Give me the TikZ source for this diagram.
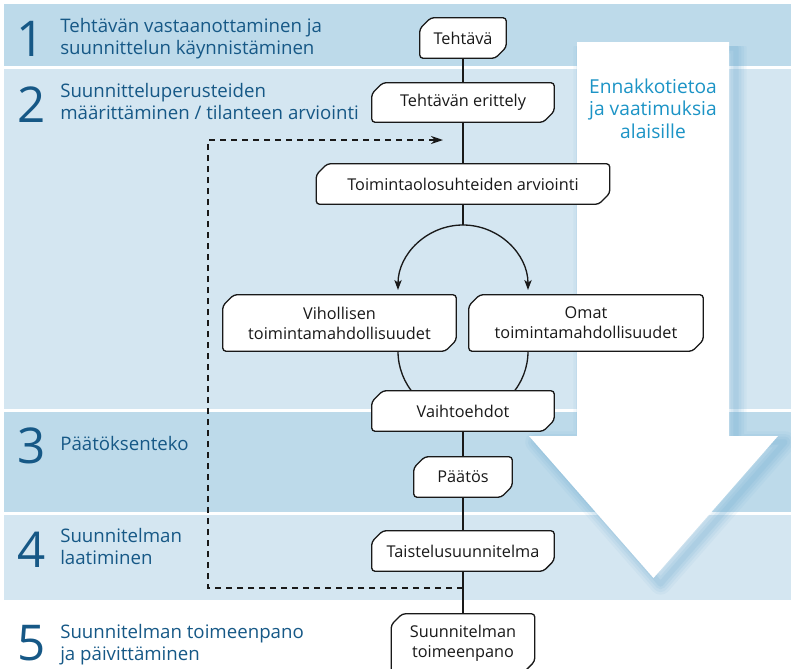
\documentclass[tikz,border=0pt]{standalone}
\usepackage{fontspec}
\setmainfont{Open Sans}
\usetikzlibrary{arrows.meta,calc}

\definecolor{banddark}{RGB}{189,218,234}
\definecolor{bandlight}{RGB}{212,230,241}
\definecolor{stepblue}{RGB}{22,88,134}
\definecolor{notecyan}{RGB}{28,148,198}
\definecolor{glow}{RGB}{110,172,210}
\definecolor{ink}{RGB}{25,25,25}

\pgfdeclarelayer{bands}
\pgfdeclarelayer{links}
\pgfdeclarelayer{shapes}
\pgfsetlayers{bands,links,shapes,main}

\tikzset{
  stepnum/.style={anchor=base, text=stepblue, inner sep=0pt, text depth=0pt,
    font=\fontsize{37}{37}\selectfont},
  steptext/.style={anchor=base west, text=stepblue, align=left, inner sep=0pt,
    font=\fontsize{14}{16.5}\selectfont},
  notetext/.style={anchor=base, text=notecyan, align=center, inner sep=0pt,
    font=\fontsize{14.4}{16.8}\selectfont},
  flowbox/.style={inner sep=0pt, align=center, text=ink,
    font=\fontsize{12.2}{15}\selectfont},
  size/.style 2 args={minimum width={0.75pt*#1}, minimum height={0.75pt*#2}},
  link/.style={line width=1pt, draw=ink},
  tip/.style={-{Stealth[length=7.5pt,width=5.5pt,inset=2pt]}},
  feedback/.style={line width=1pt, draw=ink, dash pattern=on 4.5pt off 3.75pt,
    -{Stealth[length=9pt,width=6pt,inset=3pt]}},
  outline/.style={line width=1pt, draw=ink, fill=white, rounded corners=2.5pt},
}

\begin{document}
\begin{tikzpicture}[x=0.75pt,y=0.75pt]
\useasboundingbox (0,0) rectangle (791,-668);

% phase bands and the downward arrow
\begin{pgfonlayer}{bands}
  \fill[banddark]  (4,-4)   rectangle (791,-66);
  \fill[bandlight] (4,-69)  rectangle (791,-409);
  \fill[banddark]  (4,-412) rectangle (791,-512);
  \fill[bandlight] (4,-515) rectangle (791,-600);
  \begin{scope}
    \clip (520,-46) rectangle (791,-610);
    \foreach \w/\o in {16/0.08, 12/0.10, 8/0.12, 4/0.15}
      \draw[glow, line width=\w pt, opacity=\o, line join=round, shift={(7,-6)}]
        (577,-42) -- (729,-42) -- (729,-436) -- (778,-436) -- (653.5,-578)
        -- (529,-436) -- (577,-436) -- cycle;
  \end{scope}
  \fill[white] (577,-42) -- (729,-42) -- (729,-436) -- (778,-436) -- (653.5,-578)
    -- (529,-436) -- (577,-436) -- cycle;
\end{pgfonlayer}

% multi-line texts are placed by the baseline of their last line
\node[notetext] (note) at (653,-138)
  {Ennakkotietoa\\ja vaatimuksia\\alaisille};

% phase numbers and titles
\node[stepnum] (n1) at (31,-56)  {1};
\node[stepnum] (n2) at (32,-122) {2};
\node[stepnum] (n3) at (32,-463) {3};
\node[stepnum] (n4) at (32,-567) {4};
\node[stepnum] (n5) at (32,-660) {5};

\node[steptext] (p1) at (60,-54)
  {Tehtävän vastaanottaminen ja\\suunnittelun käynnistäminen};
\node[steptext] (p2) at (60,-119)
  {Suunnitteluperusteiden\\määrittäminen / tilanteen arviointi};
\node[steptext] (p3) at (60,-450) {Päätöksenteko};
\node[steptext] (p4) at (60,-564) {Suunnitelman\\laatiminen};
\node[steptext] (p5) at (60,-660) {Suunnitelman toimeenpano\\ja päivittäminen};

% flow steps
\node[flowbox, size={86}{40}]  (task)  at (463,-38)    {Tehtävä};
\node[flowbox, size={182}{39}] (anal)  at (463,-102.5) {Tehtävän erittely};
\node[flowbox, size={293}{40}] (cond)  at (463,-184)   {Toimintaolosuhteiden arviointi};
\node[flowbox, size={233}{56}] (enemy) at (339.5,-323) {Vihollisen\\toimintamahdollisuudet};
\node[flowbox, size={234}{56}] (own)   at (586,-323)   {Omat\\toimintamahdollisuudet};
\node[flowbox, size={182}{40}] (alt)   at (463,-411)   {Vaihtoehdot};
\node[flowbox, size={98}{40}]  (dec)   at (463,-477)   {Päätös};
\node[flowbox, size={182}{40}] (plan)  at (463,-551)   {Taistelusuunnitelma};
\node[flowbox, size={143}{58}] (exec)  at (463,-643)   {Suunnitelman\\toimeenpano};

\coordinate (split)  at (463,-225);
\coordinate (fb)     at (463,-588);
\coordinate (fbturn) at (208,-140);
\coordinate (fbend)  at (443,-140);

% connectors
\begin{pgfonlayer}{links}
  \draw[link] (task) -- (anal);
  \draw[link] (anal) -- (cond);
  \draw[link] (cond) -- (split);
  \draw[link, tip] (split) arc[start angle=90, end angle=180, radius=65];
  \draw[link, tip] (split) arc[start angle=90, end angle=0, radius=65];
  \draw[link] ([xshift={0.75pt*58.5}]enemy.south) arc[start angle=180, end angle=222, radius=65];
  \draw[link] ([xshift={-0.75pt*58}]own.south) arc[start angle=0, end angle=-42, radius=65];
  \draw[link] (alt) -- (dec);
  \draw[link] (dec) -- (plan);
  \draw[link] (plan) -- (exec);
  \draw[feedback] (fb) -| (fbturn) -- (fbend);
\end{pgfonlayer}

% step box outlines: chamfered top-left and bottom-right corners
\begin{pgfonlayer}{shapes}
  \foreach \b in {task,anal,cond,enemy,own,alt,dec,plan,exec}
    \draw[outline] ([xshift=8.25pt]\b.north west) -- (\b.north east)
      -- ([yshift=8.25pt]\b.south east) -- ([xshift=-8.25pt]\b.south east)
      -- (\b.south west) -- ([yshift=-8.25pt]\b.north west) -- cycle;
\end{pgfonlayer}
\end{tikzpicture}
\end{document}
